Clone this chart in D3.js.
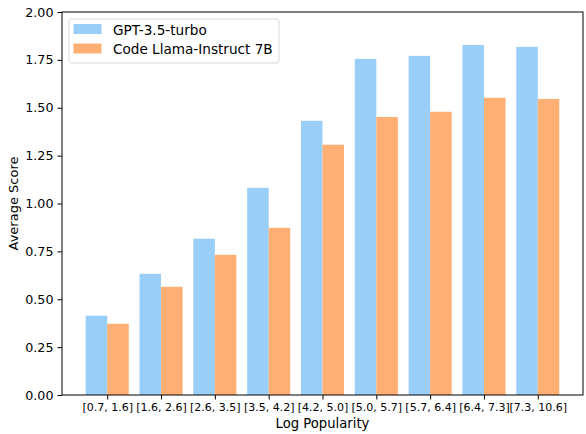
<!DOCTYPE html>
<html>
<head>
<meta charset="utf-8">
<script src="https://cdn.jsdelivr.net/npm/d3@7"></script>
<style>
  body { margin: 0; background: #fff; }
  svg { font-family: "DejaVu Sans", sans-serif; }
</style>
</head>
<body>
<div id="chart"></div>
<script>
// bins of log popularity
var categories = ["[0.7, 1.6]", "[1.6, 2.6]", "[2.6, 3.5]", "[3.5, 4.2]", "[4.2, 5.0]",
                  "[5.0, 5.7]", "[5.7, 6.4]", "[6.4, 7.3]", "[7.3, 10.6]"];
var seriesNames = ["GPT-3.5-turbo", "Code Llama-Instruct 7B"];
var gptScores = [0.414, 0.633, 0.816, 1.082, 1.432, 1.755, 1.771, 1.828, 1.818];
var llamaScores = [0.372, 0.565, 0.732, 0.873, 1.307, 1.452, 1.479, 1.552, 1.546];
var yTicks = [0, 0.25, 0.5, 0.75, 1.0, 1.25, 1.5, 1.75, 2.0];
var colors = ["#99cef8", "#ffaf73"];

var width = 586, height = 434;
var margin = {top: 12, right: 3, bottom: 39, left: 62};
var barWidth = 0.4;

var svg = d3.select("#chart").append("svg")
    .attr("width", width)
    .attr("height", height);

// matplotlib style linear x: bar centers at index, 5% margins
var n = categories.length;
var lo = -barWidth, hi = (n - 1) + barWidth;
var pad = (hi - lo) * 0.05;
var x = d3.scaleLinear()
    .domain([lo - pad, hi + pad])
    .range([margin.left, width - margin.right]);

var y = d3.scaleLinear()
    .domain([0, 2])
    .range([height - margin.bottom, margin.top]);

var series = [gptScores, llamaScores];

series.forEach(function(values, s){
    svg.append("g")
        .selectAll("rect")
        .data(values)
        .enter().append("rect")
            .attr("x", function(d, i){ return x(i - barWidth + s * barWidth); })
            .attr("y", function(d){ return y(d); })
            .attr("width", function(d, i){ return x(i + barWidth) - x(i); })
            .attr("height", function(d){ return y(0) - y(d); })
            .attr("fill", colors[s]);
});

// y axis
var yAxis = svg.append("g")
    .attr("transform", "translate(" + margin.left + ",0)")
    .call(d3.axisLeft(y).tickValues(yTicks).tickFormat(d3.format(".2f")).tickSize(4.5).tickPadding(4));
yAxis.selectAll("text").attr("font-size", "12.7px").attr("fill", "#000").attr("font-family", "DejaVu Sans");

// x axis
var xAxis = svg.append("g")
    .attr("transform", "translate(0," + (height - margin.bottom) + ")")
    .call(d3.axisBottom(x).tickValues(d3.range(n)).tickFormat(function(i){ return categories[i]; })
        .tickSize(4.5).tickPadding(4));
xAxis.selectAll("text").attr("font-size", "11px").attr("fill", "#000").attr("font-family", "DejaVu Sans");

svg.selectAll(".domain").remove();
svg.selectAll(".tick line").attr("stroke", "#000").attr("stroke-width", 1);

// frame
svg.append("rect")
    .attr("x", margin.left)
    .attr("y", margin.top)
    .attr("width", width - margin.right - margin.left)
    .attr("height", height - margin.bottom - margin.top)
    .attr("fill", "none")
    .attr("stroke", "#000")
    .attr("stroke-width", 1);

// axis labels
svg.append("text")
    .attr("x", (margin.left + width - margin.right) / 2)
    .attr("y", 428)
    .attr("text-anchor", "middle")
    .attr("font-size", "13.2px")
    .text("Log Popularity");

svg.append("text")
    .attr("transform", "translate(18," + ((margin.top + height - margin.bottom) / 2) + ") rotate(-90)")
    .attr("text-anchor", "middle")
    .attr("font-size", "13px")
    .text("Average Score");

// legend
var legend = svg.append("g").attr("transform", "translate(69,19)");
legend.append("rect")
    .attr("width", 210).attr("height", 44)
    .attr("rx", 2.5)
    .attr("fill", "#fff").attr("fill-opacity", 0.8)
    .attr("stroke", "#d9d9d9").attr("stroke-width", 1);
seriesNames.forEach(function(name, s){
    var row = legend.append("g").attr("transform", "translate(0," + (5 + s * 19.5) + ")");
    row.append("rect")
        .attr("x", 4.5).attr("width", 28).attr("height", 10)
        .attr("fill", colors[s]);
    row.append("text")
        .attr("x", 44).attr("y", 10.5)
        .attr("font-size", "13.6px")
        .text(name);
});
</script>
</body>
</html>
